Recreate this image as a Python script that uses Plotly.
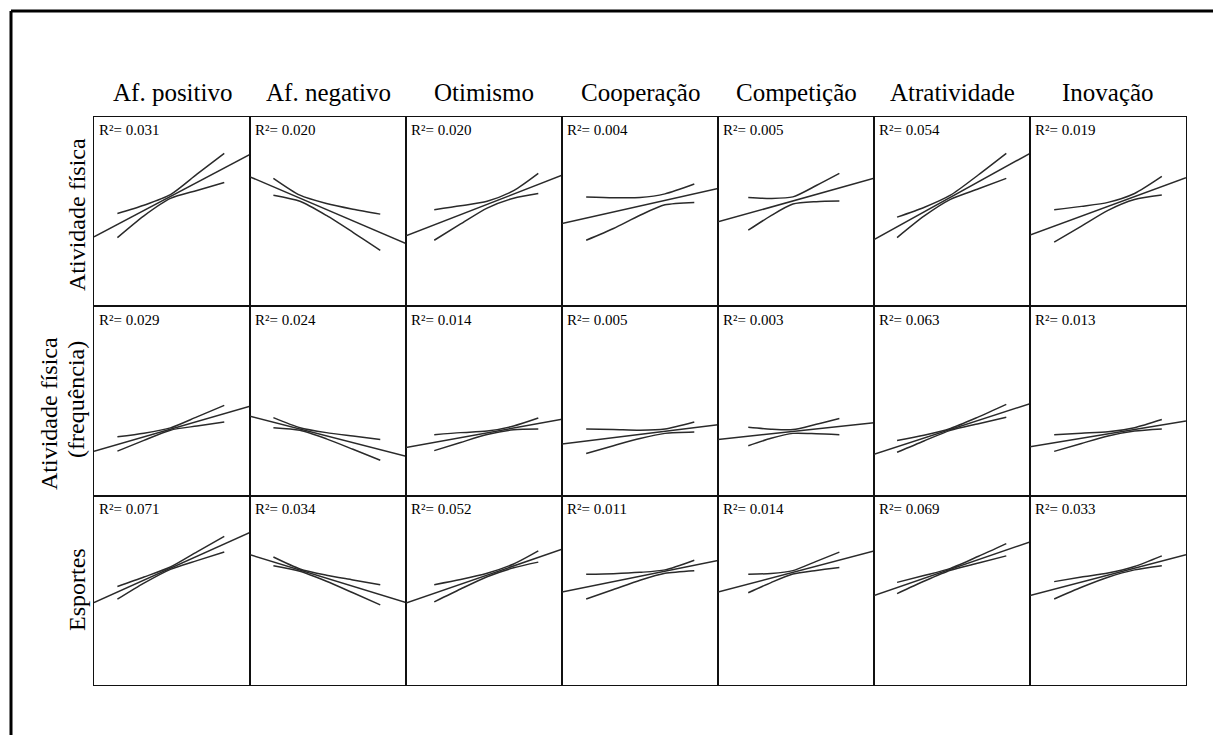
import plotly.graph_objects as go
from plotly.subplots import make_subplots

# Predictor (columns) and outcome (rows) names
columns = ["Af. positivo", "Af. negativo", "Otimismo", "Cooperação",
           "Competição", "Atratividade", "Inovação"]
row_labels = ["Atividade física", "Atividade física|(frequência)", "Esportes"]

# R² of each regression, row by row
r2_values = [
    [0.031, 0.020, 0.020, 0.004, 0.005, 0.054, 0.019],
    [0.029, 0.024, 0.014, 0.005, 0.003, 0.063, 0.013],
    [0.071, 0.034, 0.052, 0.011, 0.014, 0.069, 0.033],
]

# Fitted line at the left and right end of each panel (scaled 0..1)
fit_left = [
    [0.367, 0.684, 0.373, 0.437, 0.446, 0.353, 0.376],
    [0.235, 0.420, 0.254, 0.273, 0.297, 0.219, 0.258],
    [0.435, 0.688, 0.433, 0.491, 0.491, 0.472, 0.472],
]
fit_right = [
    [0.803, 0.332, 0.692, 0.623, 0.676, 0.808, 0.680],
    [0.473, 0.208, 0.404, 0.375, 0.385, 0.486, 0.395],
    [0.806, 0.435, 0.717, 0.657, 0.708, 0.756, 0.688],
]

# Positions where the confidence band is sampled, per predictor
band_x = [
    [0.150, 0.32, 0.49, 0.66, 0.835],
    [0.150, 0.32, 0.49, 0.66, 0.835],
    [0.181, 0.35, 0.52, 0.69, 0.848],
    [0.155, 0.33, 0.50, 0.66, 0.848],
    [0.194, 0.34, 0.48, 0.63, 0.778],
    [0.148, 0.32, 0.49, 0.67, 0.848],
    [0.155, 0.33, 0.50, 0.67, 0.845],
]

# Upper and lower confidence limits
band_upper = [
    [[0.490, 0.534, 0.590, 0.698, 0.808], [0.676, 0.587, 0.543, 0.513, 0.487],
     [0.510, 0.531, 0.555, 0.611, 0.702], [0.578, 0.574, 0.575, 0.594, 0.646],
     [0.575, 0.570, 0.578, 0.638, 0.702], [0.471, 0.522, 0.587, 0.695, 0.808],
     [0.510, 0.528, 0.549, 0.596, 0.686]],
    [[0.311, 0.330, 0.358, 0.416, 0.477], [0.412, 0.359, 0.333, 0.315, 0.297],
     [0.322, 0.333, 0.341, 0.368, 0.410], [0.352, 0.350, 0.346, 0.352, 0.389],
     [0.361, 0.351, 0.349, 0.377, 0.408], [0.291, 0.319, 0.355, 0.416, 0.482],
     [0.322, 0.330, 0.337, 0.359, 0.402]],
    [[0.520, 0.570, 0.623, 0.703, 0.785], [0.676, 0.613, 0.580, 0.555, 0.529],
     [0.530, 0.557, 0.590, 0.639, 0.708], [0.585, 0.588, 0.595, 0.608, 0.659],
     [0.585, 0.589, 0.604, 0.653, 0.702], [0.542, 0.578, 0.616, 0.680, 0.747],
     [0.546, 0.570, 0.591, 0.626, 0.682]],
]
band_lower = [
    [[0.363, 0.478, 0.570, 0.612, 0.654], [0.587, 0.555, 0.480, 0.391, 0.296],
     [0.349, 0.435, 0.519, 0.571, 0.596], [0.349, 0.411, 0.481, 0.536, 0.549],
     [0.402, 0.479, 0.540, 0.553, 0.556], [0.363, 0.476, 0.565, 0.621, 0.676],
     [0.339, 0.424, 0.507, 0.564, 0.588]],
    [[0.235, 0.292, 0.346, 0.368, 0.389], [0.359, 0.345, 0.300, 0.245, 0.187],
     [0.238, 0.281, 0.323, 0.348, 0.352], [0.223, 0.264, 0.302, 0.329, 0.336],
     [0.264, 0.303, 0.329, 0.327, 0.322], [0.229, 0.289, 0.345, 0.380, 0.414],
     [0.234, 0.276, 0.315, 0.341, 0.352]],
    [[0.453, 0.538, 0.611, 0.657, 0.702], [0.630, 0.601, 0.548, 0.487, 0.423],
     [0.439, 0.507, 0.572, 0.619, 0.649], [0.454, 0.504, 0.553, 0.590, 0.604],
     [0.487, 0.541, 0.586, 0.605, 0.620], [0.483, 0.548, 0.606, 0.644, 0.682],
     [0.454, 0.516, 0.569, 0.608, 0.630]],
]

W, H = 1213, 735
L, R, T, B = 94, 27, 117, 50
plot_w, plot_h = W - L - R, H - T - B
FONT = "Liberation Serif"
LINE = "#2a2a2a"


def px_x(px):
    return (px - L) / plot_w


def px_y(py):
    return (H - B - py) / plot_h


n_rows, n_cols = len(row_labels), len(columns)
fig = make_subplots(rows=n_rows, cols=n_cols,
                    horizontal_spacing=0, vertical_spacing=0)

for i in range(n_rows):
    for j in range(n_cols):
        r, c = i + 1, j + 1
        fig.add_trace(go.Scatter(x=[0, 1], y=[fit_left[i][j], fit_right[i][j]],
                                 mode="lines", line=dict(color=LINE, width=1.5),
                                 showlegend=False, hoverinfo="skip"), row=r, col=c)
        for band in (band_upper, band_lower):
            fig.add_trace(go.Scatter(x=band_x[j], y=band[i][j], mode="lines",
                                     line=dict(color=LINE, width=1.5,
                                               shape="spline", smoothing=0.7),
                                     showlegend=False, hoverinfo="skip"),
                          row=r, col=c)
        idx = i * n_cols + j + 1
        suffix = "" if idx == 1 else str(idx)
        fig.add_annotation(text=f"R²= {r2_values[i][j]:.3f}",
                           xref=f"x{suffix} domain", yref=f"y{suffix} domain",
                           x=0.02, y=0.93, xanchor="left", yanchor="middle",
                           showarrow=False,
                           font=dict(family=FONT, size=15, color="black"))

fig.update_xaxes(range=[0, 1], showgrid=False, zeroline=False, showticklabels=False,
                 ticks="", showline=True, mirror=True, linecolor="#111", linewidth=1.1,
                 fixedrange=True)
fig.update_yaxes(range=[0, 1], showgrid=False, zeroline=False, showticklabels=False,
                 ticks="", showline=True, mirror=True, linecolor="#111", linewidth=1.1,
                 fixedrange=True)

# Column headings
for j, name in enumerate(columns):
    fig.add_annotation(text=name, xref="paper", yref="paper",
                       x=(j + 0.5) / n_cols, y=px_y(92),
                       xanchor="center", yanchor="middle", showarrow=False,
                       font=dict(family=FONT, size=25, color="black"))

# Row headings (rotated)
row_pos = [[(77, 215)], [(49, 414), (76, 400)], [(77, 590)]]
for i, label in enumerate(row_labels):
    for part, (px, py) in zip(label.split("|"), row_pos[i]):
        fig.add_annotation(text=part, xref="paper", yref="paper",
                           x=px_x(px), y=px_y(py), textangle=-90,
                           xanchor="center", yanchor="middle", showarrow=False,
                           font=dict(family=FONT, size=24, color="black"))

# Outer frame along the top and left edges
fig.add_shape(type="line", xref="paper", yref="paper",
              x0=px_x(11), x1=px_x(W + 5), y0=px_y(11), y1=px_y(11),
              line=dict(color="black", width=3))
fig.add_shape(type="line", xref="paper", yref="paper",
              x0=px_x(11), x1=px_x(11), y0=px_y(11), y1=px_y(H + 5),
              line=dict(color="black", width=3))

fig.update_layout(width=W, height=H, margin=dict(l=L, r=R, t=T, b=B),
                  paper_bgcolor="white", plot_bgcolor="white")

fig.write_html("out.html")
